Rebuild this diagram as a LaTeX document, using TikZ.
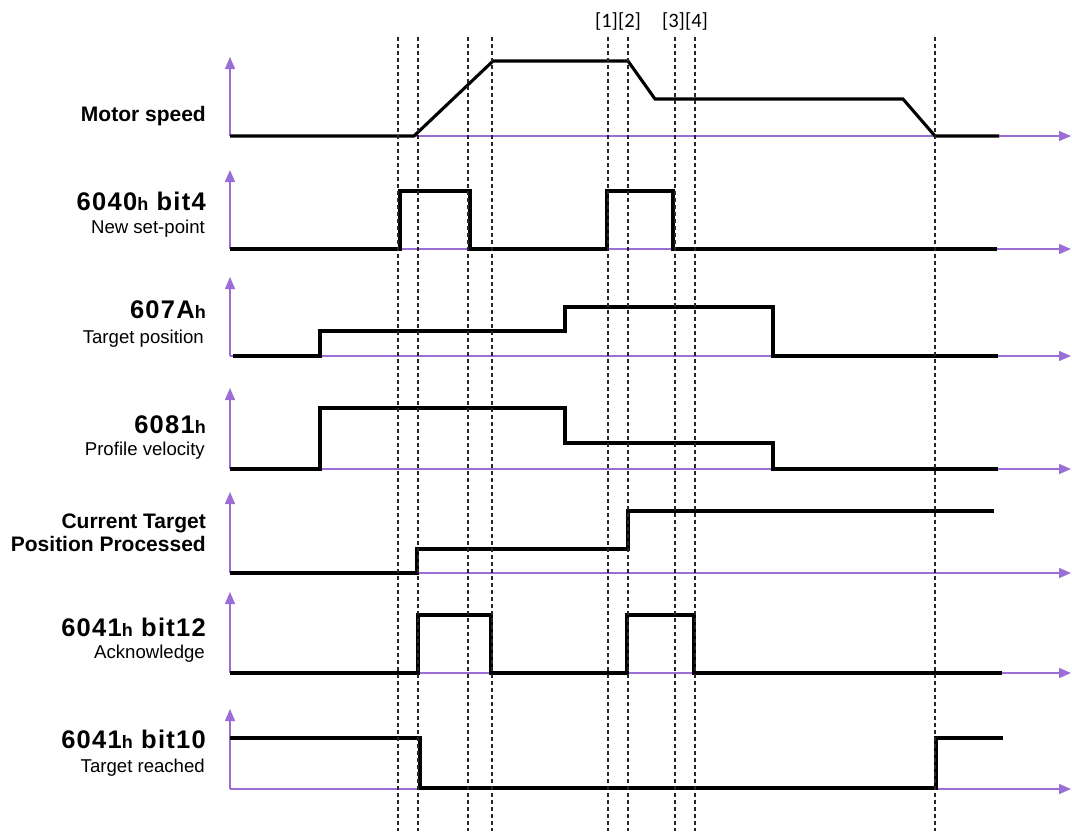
\documentclass[tikz,border=0pt]{standalone}
\usepackage{fontspec}
\setmainfont{Liberation Sans}
\newfontfamily\brfont{Carlito}
\usetikzlibrary{arrows.meta}
\definecolor{axiscol}{RGB}{155,110,215}
\newcommand\hsmall[1]{{\fontsize{18}{20}\selectfont #1}}
\begin{document}
\begin{tikzpicture}[x=1pt,y=-1pt,
  axis/.style={draw=axiscol, line width=1.4pt, -{Triangle[length=12pt,width=10pt]}},
  sig/.style={draw=black, line width=3.1pt, line join=miter},
  guide/.style={draw=black!85, line width=1.3pt, dash pattern=on 4pt off 3pt},
  lbl/.style={anchor=base east, inner sep=0pt, font=\bfseries\fontsize{21}{24}\selectfont},
  big/.style={anchor=base east, inner sep=0pt, font=\bfseries\fontsize{25.5}{28}\selectfont\addfontfeature{LetterSpace=5}},
  sub/.style={anchor=base east, inner sep=0pt, font=\fontsize{18.6}{22}\selectfont},
  steplbl/.style={anchor=base, inner sep=0pt, font=\brfont\fontsize{20.5}{24}\selectfont}
]
\useasboundingbox (0,0) rectangle (1072,831);

% axes
\foreach \b/\t in {136/57,249/170,356/277,469/388,573/492,673/592,789/709}{
  \draw[axis] (230,\b) -- (230,\t);
  \draw[axis] (230,\b) -- (1071,\b);
}

% signals
\draw[sig] (230,136) -- (414,136) -- (493,61) -- (628,61) -- (655,99) -- (903,99) -- (935,136) -- (999,136);
\draw[sig] (230,249) -- (400,249) -- (400,191) -- (470,191) -- (470,249) -- (607,249) -- (607,191) -- (673,191) -- (673,249) -- (997,249);
\draw[sig] (233,356) -- (320,356) -- (320,331) -- (565,331) -- (565,307) -- (773,307) -- (773,356) -- (998,356);
\draw[sig] (230,469) -- (320,469) -- (320,408) -- (565,408) -- (565,443) -- (773,443) -- (773,469) -- (998,469);
\draw[sig] (230,573) -- (417,573) -- (417,549) -- (628,549) -- (628,511) -- (994,511);
\draw[sig] (230,673) -- (418,673) -- (418,615) -- (491,615) -- (491,673) -- (627,673) -- (627,615) -- (694,615) -- (694,673) -- (1002,673);
\draw[sig] (230,738) -- (420,738) -- (420,788) -- (936,788) -- (936,738) -- (1003,738);

% guide lines
\foreach \x in {398,418,468,492,608,628,675,695,935}{
  \draw[guide] (\x,37) -- (\x,831);
}

% step markers
\node[steplbl] (m12) at (618,27) {[1][2]};
\node[steplbl] (m34) at (685,27) {[3][4]};

% labels
\node[lbl] (l1) at (206,121) {Motor speed};
\node[big] (l2) at (206,210) {6040\hsmall{h} bit4};
\node[sub] (s2) at (205,233) {New set-point};
\node[big] (l3) at (206,318) {607A\hsmall{h}};
\node[sub] (s3) at (204,343) {Target position};
\node[big] (l4) at (206,433) {6081\hsmall{h}};
\node[sub] (s4) at (205,455) {Profile velocity};
\node[lbl] (l5a) at (206,528) {Current Target};
\node[lbl] (l5b) at (206,551) {Position Processed};
\node[big] (l6) at (206,636) {6041\hsmall{h} bit12};
\node[sub] (s6) at (205,658) {Acknowledge};
\node[big] (l7) at (206,748) {6041\hsmall{h} bit10};
\node[sub] (s7) at (205,772) {Target reached};
\end{tikzpicture}
\end{document}
